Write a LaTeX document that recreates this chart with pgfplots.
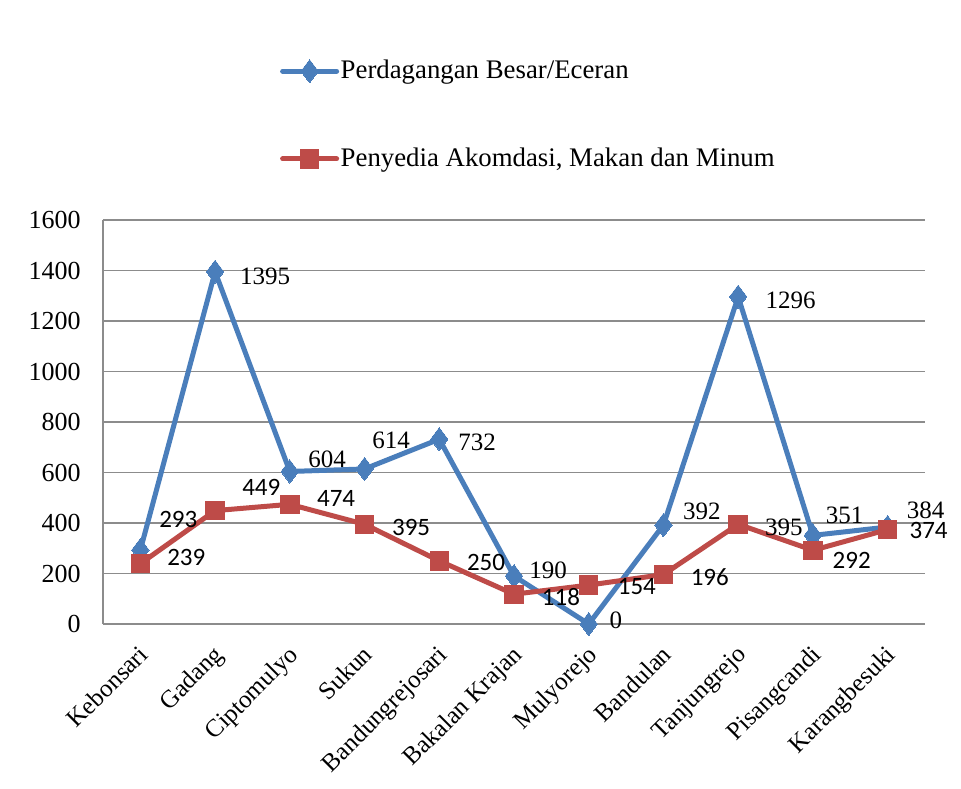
\documentclass[border=0pt]{standalone}
\usepackage{fontspec}
\setmainfont{Liberation Serif}
\newfontfamily\calib{Carlito}
\usepackage{pgfplots}
\pgfplotsset{compat=1.18}
\definecolor{blueS}{HTML}{4A7EBB}
\definecolor{redS}{HTML}{BE4B48}
\definecolor{gridc}{HTML}{8C8C8C}
\newcommand\lf{\fontsize{12.5bp}{15bp}\selectfont}
\begin{document}
\begin{tikzpicture}
\path[use as bounding box] (-51.5bp,-82.5bp) rectangle (429bp,312bp);
\begin{axis}[
  scale only axis, width=411bp, height=202bp,
  anchor=south west, at={(0,0)},
  xmin=-0.5, xmax=10.5, ymin=0, ymax=1600,
  ytick={0,200,...,1600},
  xtick={0,...,10},
  xticklabels={Kebonsari,Gadang,Ciptomulyo,Sukun,Bandungrejosari,Bakalan Krajan,Mulyorejo,Bandulan,Tanjungrejo,Pisangcandi,Karangbesuki},
  xticklabel style={xshift=-1.5bp, yshift=-9bp, rotate=45, anchor=north east, inner sep=0.5bp, font=\lf},
  yticklabel style={inner sep=0pt, xshift=-11bp, font=\fontsize{13bp}{15bp}\selectfont},
  major tick length=0pt,
  axis lines=left, axis line style={-, draw=gridc, line width=0.8bp},
  ymajorgrids, grid style={draw=gridc, line width=0.8bp},
  font=\lf,
  /pgf/number format/assume math mode=true,
  /pgf/number format/set thousands separator={},
  clip=false,
  legend style={draw=none, fill=none, at={(0.215,1.40)}, anchor=north west,
    row sep=31.5bp, inner sep=0pt, font=\fontsize{13.4bp}{15bp}\selectfont,
    nodes={inner sep=0.8bp}},
  legend cell align=left,
  legend image code/.code={\draw[mark repeat=2,mark phase=2,#1] plot coordinates {(0bp,0bp) (13.5bp,0bp) (27bp,0bp)};},
]
\addplot[blueS, line width=2.5bp, line join=round, line cap=round, mark=diamond*, mark size=5.8bp, mark options={solid, line width=0pt}]
  coordinates {(0,293) (1,1395) (2,604) (3,614) (4,732) (5,190) (6,0) (7,392) (8,1296) (9,351) (10,384)};
\addlegendentry{Perdagangan Besar/Eceran}
\addplot[redS, line width=2.5bp, line join=round, line cap=round, mark=square*, mark size=4.6bp, mark options={solid, line width=0pt}]
  coordinates {(0,239) (1,449) (2,474) (3,395) (4,250) (5,118) (6,154) (7,196) (8,395) (9,292) (10,374)};
\addlegendentry{Penyedia Akomdasi, Makan dan Minum}
% data labels
\node[font=\lf\calib] at (axis cs:0.508,412) {293};
\node at (axis cs:1.671,1378) {1395};
\node at (axis cs:2.50,653) {604};
\node at (axis cs:3.356,729) {614};
\node at (axis cs:4.505,721) {732};
\node at (axis cs:5.455,214) {190};
\node at (axis cs:6.364,16) {0};
\node at (axis cs:7.513,447) {392};
\node at (axis cs:8.703,1283) {1296};
\node at (axis cs:9.425,432) {351};
\node at (axis cs:10.508,451) {384};
\node[font=\lf\calib] at (axis cs:0.615,265) {239};
\node[font=\lf\calib] at (axis cs:1.618,543) {449};
\node[font=\lf\calib] at (axis cs:2.62,499) {474};
\node[font=\lf\calib] at (axis cs:3.623,384) {395};
\node[font=\lf\calib] at (axis cs:4.626,242) {250};
\node[font=\lf\calib] at (axis cs:5.628,107) {118};
\node[font=\lf\calib] at (axis cs:6.644,147) {154};
\node[font=\lf\calib] at (axis cs:7.62,186) {196};
\node at (axis cs:8.61,384) {395};
\node[font=\lf\calib] at (axis cs:9.519,253) {292};
\node[font=\lf\calib] at (axis cs:10.548,372) {374};
\end{axis}
\end{tikzpicture}
\end{document}
